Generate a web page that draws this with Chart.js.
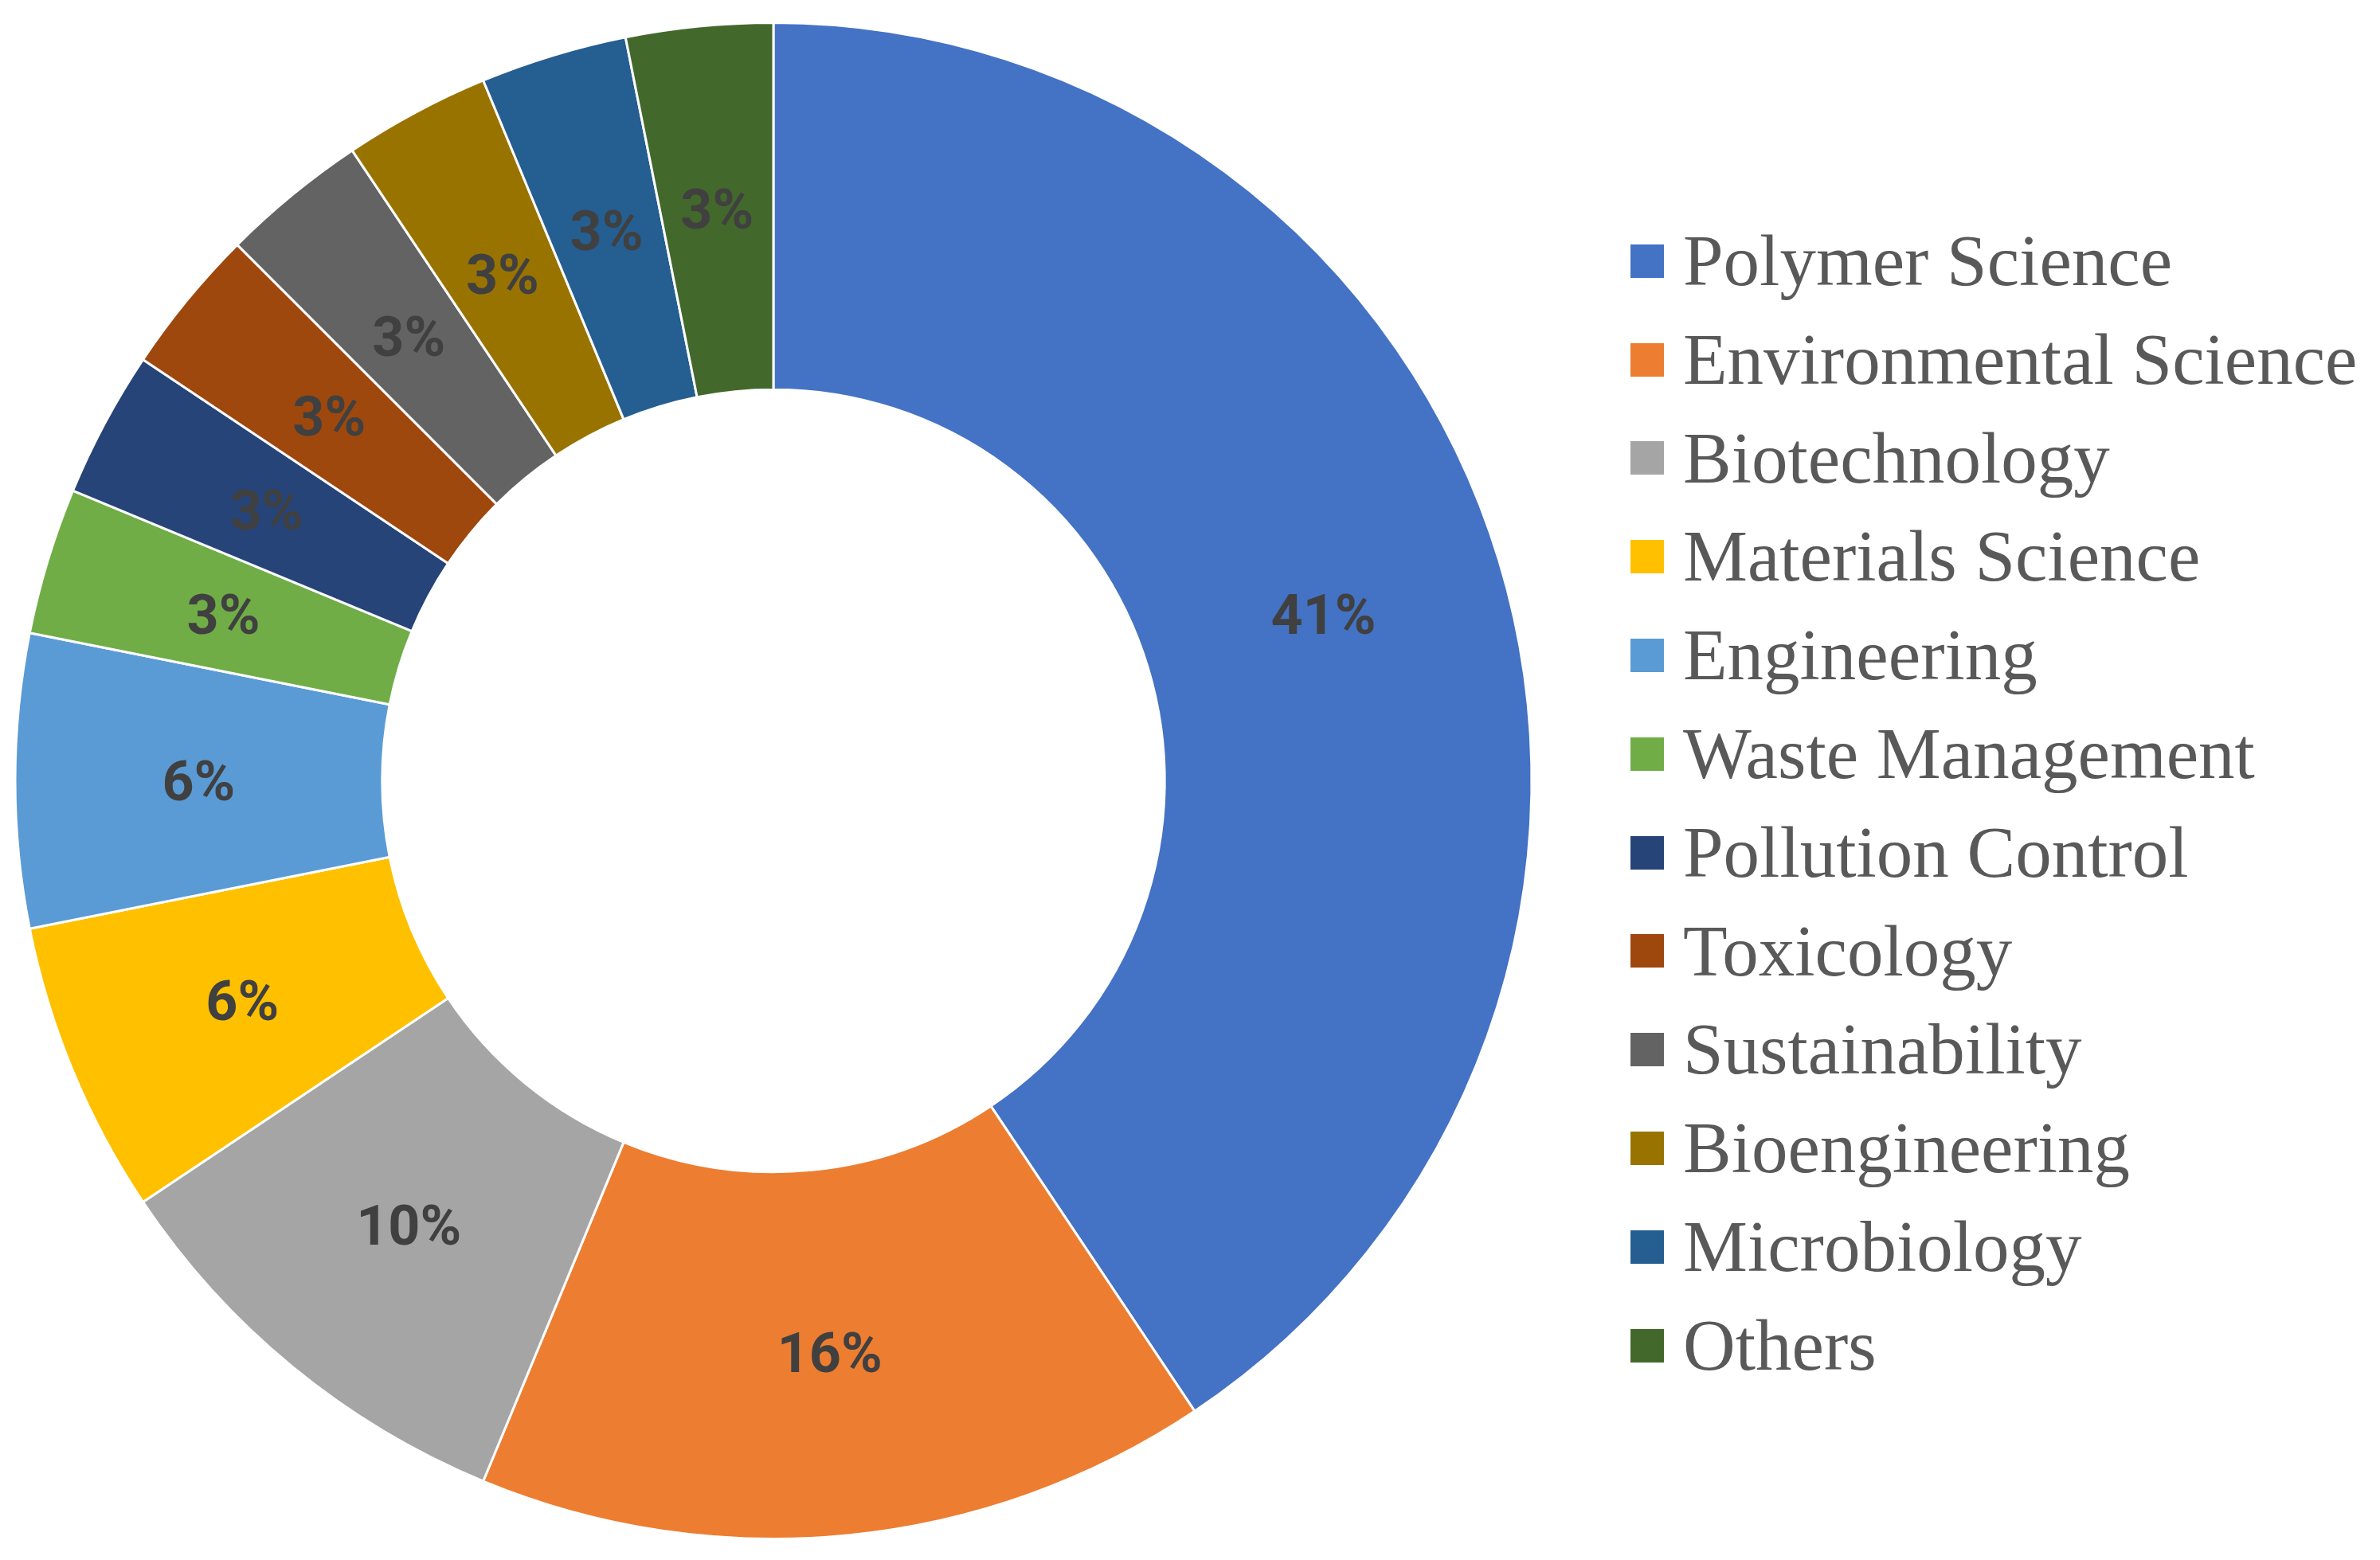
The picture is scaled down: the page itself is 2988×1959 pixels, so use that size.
<!DOCTYPE html>
<html lang="en">
<head>
    <meta charset="UTF-8">
    <title>Research Areas</title>
    <script src="https://cdn.jsdelivr.net/npm/chart.js"></script>
    <style>
        html, body {
            margin: 0;
            padding: 0;
            background: #ffffff;
        }

        .wrap {
            position: relative;
            width: 2988px;
            height: 1959px;
        }

        .legend {
            position: absolute;
            left: 2047px;
            top: 266px;
            margin: 0;
            padding: 0;
            list-style: none;
            font-family: "Liberation Serif", "Times New Roman", serif;
            font-size: 91px;
            color: #595959;
        }

        .legend li {
            height: 123.8px;
            line-height: 123.8px;
            white-space: nowrap;
            display: flex;
            align-items: center;
        }

        .legend .box {
            width: 42px;
            height: 42px;
            margin-right: 24px;
            flex: none;
        }
    </style>
</head>
<body>

<div class="wrap">
    <canvas id="areaChart" width="2988" height="1959"></canvas>
    <ul class="legend" id="legend"></ul>
</div>

<script>
    // data
    const categories = ['Polymer Science', 'Environmental Science', 'Biotechnology', 'Materials Science',
        'Engineering', 'Waste Management', 'Pollution Control', 'Toxicology', 'Sustainability',
        'Bioengineering', 'Microbiology', 'Others'];
    const counts = [13, 5, 3, 2, 2, 1, 1, 1, 1, 1, 1, 1];
    const pctLabels = ['41%', '16%', '10%', '6%', '6%', '3%', '3%', '3%', '3%', '3%', '3%', '3%'];
    const colors = ['#4472C4', '#ED7D31', '#A5A5A5', '#FFC000', '#5B9BD5', '#70AD47',
        '#264478', '#9E480E', '#636363', '#997300', '#255E91', '#43682B'];

    // percent labels in the middle of each ring slice
    const sliceLabels = {
        id: 'sliceLabels',
        afterDatasetsDraw(chart) {
            const ctx = chart.ctx;
            const meta = chart.getDatasetMeta(0);
            ctx.save();
            ctx.font = 'bold 70px Roboto, "Open Sans", sans-serif';
            ctx.fillStyle = '#404040';
            ctx.textAlign = 'center';
            ctx.textBaseline = 'middle';
            meta.data.forEach((arc, i) => {
                const p = arc.tooltipPosition();
                ctx.fillText(pctLabels[i], p.x, p.y + 7);
            });
            ctx.restore();
        }
    };

    const ctx = document.getElementById('areaChart').getContext('2d');
    const areaChart = new Chart(ctx, {
        type: 'doughnut',
        data: {
            labels: categories,
            datasets: [{
                data: counts,
                backgroundColor: colors,
                borderColor: '#ffffff',
                borderWidth: 3
            }]
        },
        options: {
            responsive: false,
            animation: false,
            cutout: '51.6%',
            layout: {
                padding: { left: 17, right: 1063, top: 27, bottom: 25 }
            },
            plugins: {
                legend: { display: false },
                tooltip: { enabled: false }
            }
        },
        plugins: [sliceLabels]
    });

    // legend on the right
    const legend = document.getElementById('legend');
    categories.forEach((name, i) => {
        const li = document.createElement('li');
        const box = document.createElement('span');
        box.className = 'box';
        box.style.background = colors[i];
        li.appendChild(box);
        li.appendChild(document.createTextNode(name));
        legend.appendChild(li);
    });
</script>

</body>
</html>
